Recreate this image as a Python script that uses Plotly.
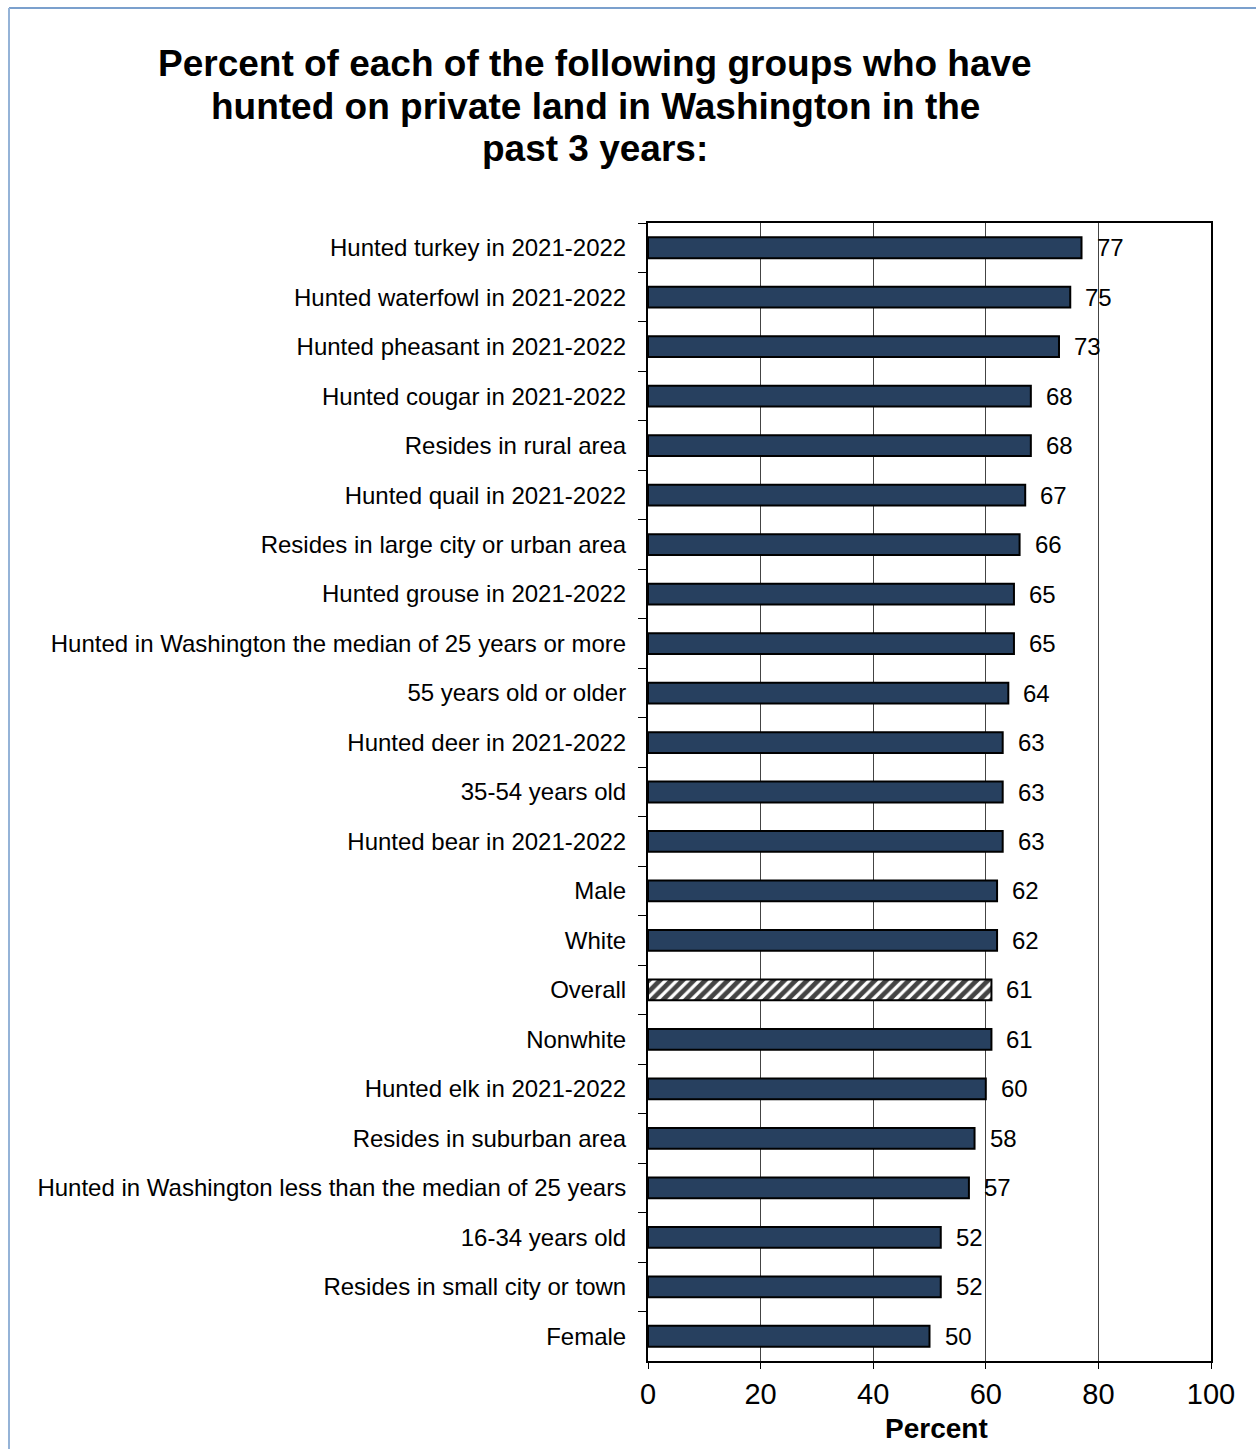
import plotly.graph_objects as go

# Groups listed top to bottom, with the percent who hunted on private land
groups = [
    "Hunted turkey in 2021-2022",
    "Hunted waterfowl in 2021-2022",
    "Hunted pheasant in 2021-2022",
    "Hunted cougar in 2021-2022",
    "Resides in rural area",
    "Hunted quail in 2021-2022",
    "Resides in large city or urban area",
    "Hunted grouse in 2021-2022",
    "Hunted in Washington the median of 25 years or more",
    "55 years old or older",
    "Hunted deer in 2021-2022",
    "35-54 years old",
    "Hunted bear in 2021-2022",
    "Male",
    "White",
    "Overall",
    "Nonwhite",
    "Hunted elk in 2021-2022",
    "Resides in suburban area",
    "Hunted in Washington less than the median of 25 years",
    "16-34 years old",
    "Resides in small city or town",
    "Female",
]
percent = [77, 75, 73, 68, 68, 67, 66, 65, 65, 64, 63, 63, 63, 62, 62, 61, 61, 60, 58, 57, 52, 52, 50]
x_ticks = [0, 20, 40, 60, 80, 100]
title_lines = [
    "Percent of each of the following groups who have",
    "hunted on private land in Washington in the",
    "past 3 years:",
]

NAVY = "#27405F"
FONT = "Liberation Sans, Arial, sans-serif"

is_overall = [g == "Overall" for g in groups]
fills = ["white" if o else NAVY for o in is_overall]
shapes_pat = ["/" if o else "" for o in is_overall]

fig = go.Figure()
fig.add_trace(go.Bar(
    y=groups,
    x=percent,
    orientation="h",
    width=0.42,
    marker=dict(
        color=fills,
        line=dict(color="black", width=2),
        pattern=dict(shape=shapes_pat, fgcolor=NAVY, bgcolor="white",
                     size=8, solidity=0.6, fgopacity=1, fillmode="overlay"),
    ),
    hoverinfo="skip",
))

# value labels to the right of each bar
for g, v in zip(groups, percent):
    fig.add_annotation(
        x=v, y=g, xref="x", yref="y",
        text=str(v), showarrow=False,
        xanchor="left", xshift=13,
        font=dict(family=FONT, size=24, color="black"),
    )

# title, one annotation per line for tight line spacing
for i, line in enumerate(title_lines):
    fig.add_annotation(
        x=-0.094, y=1.0 + (223 - 64 - 42 * i) / 1138,
        xref="paper", yref="paper", xanchor="center", yanchor="middle",
        text=f"<b>{line}</b>", showarrow=False,
        font=dict(family=FONT, size=37, color="black"),
    )

# axis title under the tick numbers
fig.add_annotation(
    x=0.512, y=-(1428 - 1361) / 1138, xref="paper", yref="paper",
    text="<b>Percent</b>", showarrow=False, yanchor="middle",
    font=dict(family=FONT, size=28, color="black"),
)

# light blue frame around the whole graphic
fig.add_shape(type="line", xref="paper", yref="paper",
              x0=-1.135, x1=1.1, y0=1.189, y1=1.189,
              line=dict(color="#4F81BD", width=1.5))
fig.add_shape(type="line", xref="paper", yref="paper",
              x0=-1.135, x1=-1.135, y0=1.189, y1=-0.1,
              line=dict(color="#95B3D7", width=2))

fig.update_layout(
    width=1256, height=1449,
    margin=dict(l=648, r=45, t=223, b=88),
    paper_bgcolor="white", plot_bgcolor="white",
    showlegend=False,
    xaxis=dict(
        range=[0, 100], tickvals=x_ticks,
        showgrid=True, gridcolor="#444444", gridwidth=1,
        showline=True, linecolor="black", linewidth=2, mirror=True,
        ticks="outside", ticklen=6, tickcolor="black",
        tickfont=dict(family=FONT, size=29, color="black"),
        zeroline=False, fixedrange=True,
    ),
    yaxis=dict(
        autorange="reversed",
        showline=True, linecolor="black", linewidth=2, mirror=True,
        ticks="outside", ticklen=8, tickcolor="black",
        tickson="boundaries",
        tickfont=dict(family=FONT, size=24, color="black"),
        ticklabelstandoff=15,
        showgrid=False, fixedrange=True,
    ),
)

fig.write_html("out.html")
